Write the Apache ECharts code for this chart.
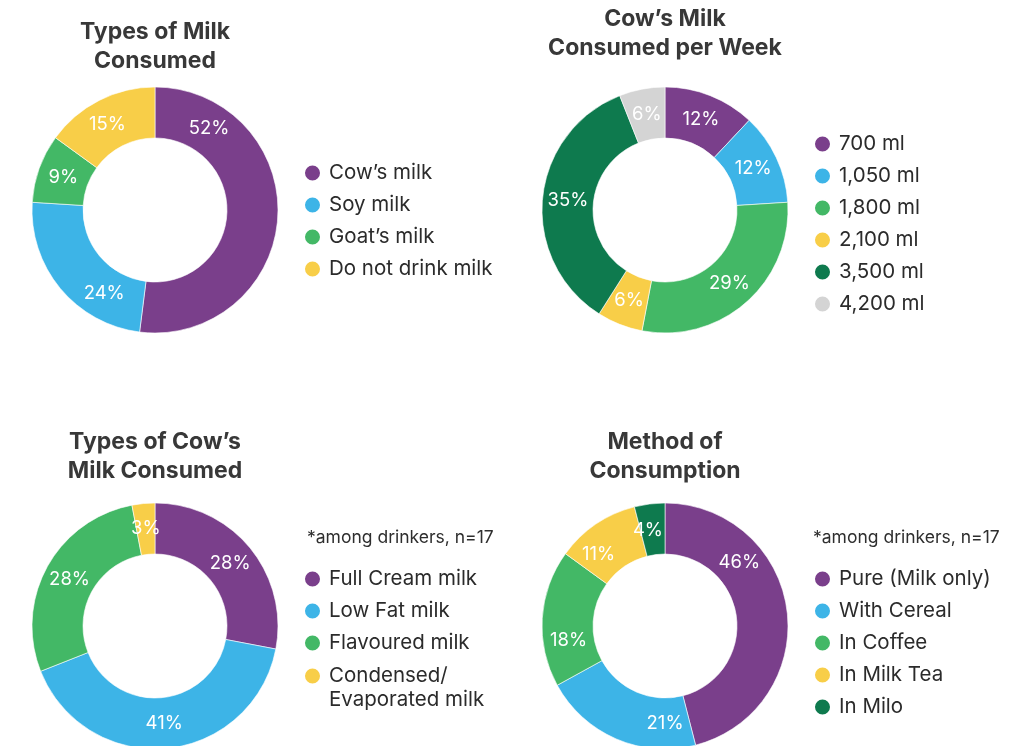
<!DOCTYPE html>
<html><head><meta charset="utf-8">
<script src="https://cdn.jsdelivr.net/npm/echarts@6/dist/echarts.min.js"></script>
<style>html,body{margin:0;padding:0;background:#fff}#c{width:1023px;height:746px}</style>
</head><body><div id="c"></div><script>
// ---- data ----
const milkTypes = ['Cow’s milk', 'Soy milk', 'Goat’s milk', 'Do not drink milk'];
const milkTypeValues = [52, 24, 9, 15];
const weeklyAmounts = ['700 ml', '1,050 ml', '1,800 ml', '2,100 ml', '3,500 ml', '4,200 ml'];
const weeklyValues = [12, 12, 29, 6, 35, 6];
const cowMilkTypes = ['Full Cream milk', 'Low Fat milk', 'Flavoured milk', 'Condensed/\nEvaporated milk'];
const cowMilkValues = [28, 41, 28, 3];
const methods = ['Pure (Milk only)', 'With Cereal', 'In Coffee', 'In Milk Tea', 'In Milo'];
const methodValues = [46, 21, 18, 11, 4];
const titles = ['Types of Milk\nConsumed', 'Cow’s Milk\nConsumed per Week', 'Types of Cow’s\nMilk Consumed', 'Method of\nConsumption'];
const noteText = '*among drinkers, n=17';

// ---- styles ----
const PURPLE = '#7a3f8b', BLUE = '#3db4e7', GREEN = '#43b866', YELLOW = '#f8ce48', DKGREEN = '#0e7a4e', GRAY = '#d4d4d4';
const FONT = 'Inter, "Liberation Sans", Arial, sans-serif';
// where along each slice (0 = start, 1 = end) its label sits
const labelFrac1 = [0.18, 0.28, 0.5, 0.46];
const labelFrac2 = [0.5, 0.5, 0.5, 0.5, 0.5, 0.5];
const labelFrac3 = [0.5, 0.5, 0.5, 0.5];
const labelFrac4 = [0.3, 0.19, 0.31, 0.28, 0.3];

const chart = echarts.init(document.getElementById('c'), null, {renderer: 'canvas'});

function placeLabel(fracs) {
  return function (p) {
    const data = chart.getModel().getSeriesByIndex(p.seriesIndex).getData();
    const l = data.getItemLayout(p.dataIndex);
    const f = fracs[p.dataIndex];
    const a = l.startAngle + f * (l.endAngle - l.startAngle);
    const rm = (l.r + l.r0) / 2;
    return {x: l.cx + rm * Math.cos(a), y: l.cy + rm * Math.sin(a), align: 'center', verticalAlign: 'middle'};
  };
}

function pie(names, values, colors, center, fracs) {
  return {
    type: 'pie', radius: [72, 123], center: center, startAngle: 90, clockwise: true,
    avoidLabelOverlap: false, silent: true,
    label: {show: true, position: 'inside', formatter: '{c}%', color: '#fff', fontSize: 18.5, fontFamily: FONT},
    labelLine: {show: false},
    labelLayout: placeLabel(fracs),
    itemStyle: {borderColor: '#fff', borderWidth: 0.6},
    emphasis: {disabled: true},
    data: names.map((n, i) => ({name: n, value: values[i], itemStyle: {color: colors[i]}}))
  };
}

function titleAt(text, x, y) {
  return {text: text, left: x, top: y, textAlign: 'center', padding: 0,
    textStyle: {fontSize: 23, fontWeight: 'bold', color: '#383838', fontFamily: FONT, lineHeight: 29}};
}
function noteAt(x, y) {
  return {text: noteText, left: x, top: y, padding: 0,
    textStyle: {fontSize: 17.5, fontWeight: 'normal', color: '#2e2e2e', fontFamily: FONT}};
}
const legendCommon = {
  orient: 'vertical', padding: 0, itemGap: 8, itemWidth: 17, itemHeight: 17, icon: 'circle',
  selectedMode: false,
  textStyle: {fontSize: 20.5, color: '#2b2b2b', fontFamily: FONT, lineHeight: 24, padding: [0, 0, 0, 3]}
};

chart.setOption({
  animation: false,
  title: [
    titleAt(titles[0], 155, 18),
    titleAt(titles[1], 665, 5),
    titleAt(titles[2], 155, 428),
    titleAt(titles[3], 665, 428),
    noteAt(307, 529),
    noteAt(813, 529)
  ],
  legend: [
    Object.assign({}, legendCommon, {data: milkTypes, left: 303, top: 161}),
    Object.assign({}, legendCommon, {data: weeklyAmounts, left: 813, top: 132}),
    Object.assign({}, legendCommon, {data: cowMilkTypes.slice(0, 3), left: 303, top: 567}),
    Object.assign({}, legendCommon, {data: cowMilkTypes.slice(3), left: 303, top: 640, formatter: '\n{name}'}),
    Object.assign({}, legendCommon, {data: methods, left: 813, top: 567})
  ],
  series: [
    pie(milkTypes, milkTypeValues, [PURPLE, BLUE, GREEN, YELLOW], [155, 210], labelFrac1),
    pie(weeklyAmounts, weeklyValues, [PURPLE, BLUE, GREEN, YELLOW, DKGREEN, GRAY], [665, 210], labelFrac2),
    pie(cowMilkTypes, cowMilkValues, [PURPLE, BLUE, GREEN, YELLOW], [155, 626], labelFrac3),
    pie(methods, methodValues, [PURPLE, BLUE, GREEN, YELLOW, DKGREEN], [665, 626], labelFrac4)
  ]
});
</script></body></html>
